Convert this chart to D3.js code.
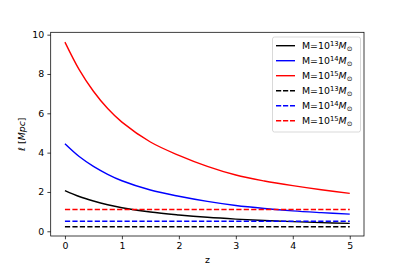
<!DOCTYPE html>
<html>
<head>
<meta charset="utf-8">
<script src="https://cdn.jsdelivr.net/npm/d3@7"></script>
<style>
  body { margin: 0; background: #fff; }
  text { font-family: "DejaVu Sans", sans-serif; }
</style>
</head>
<body>
<svg id="chart" width="405" height="270"></svg>
<script>
// values
var zValues = [0, 0.25, 0.5, 0.75, 1, 1.5, 2, 2.5, 3, 3.5, 4, 4.5, 5];
var solid13 = [2.07, 1.77, 1.54, 1.35, 1.20, 0.98, 0.83, 0.71, 0.62, 0.55, 0.49, 0.44, 0.40];
var solid14 = [4.45, 3.80, 3.30, 2.90, 2.57, 2.10, 1.78, 1.52, 1.31, 1.16, 1.04, 0.95, 0.87];
var solid15 = [9.62, 8.22, 7.12, 6.24, 5.55, 4.54, 3.86, 3.30, 2.86, 2.56, 2.32, 2.11, 1.93];
var dashed13 = [0.23, 0.23];
var dashed14 = [0.51, 0.51];
var dashed15 = [1.11, 1.11];
var dashedZ = [0, 5];
var xTicks = [0, 1, 2, 3, 4, 5];
var yTicks = [0, 2, 4, 6, 8, 10];
var exps = ["13", "14", "15"];

var svg = d3.select('#chart');

var pLeft = 50.7, pRight = 364, pTop = 32.3, pBottom = 236;

var x = d3.scaleLinear().domain([-0.25, 5.25]).range([pLeft, pRight]);
var y = d3.scaleLinear().domain([-0.24, 10.12]).range([pBottom, pTop]);

// series list
var series = [
  {z: zValues, v: solid13, color: 'black', dash: null, exp: exps[0]},
  {z: zValues, v: solid14, color: 'blue', dash: null, exp: exps[1]},
  {z: zValues, v: solid15, color: 'red', dash: null, exp: exps[2]},
  {z: dashedZ, v: dashed13, color: '#000', dash: '5.2,2.25', exp: exps[0]},
  {z: dashedZ, v: dashed14, color: 'blue', dash: '5.2,2.25', exp: exps[1]},
  {z: dashedZ, v: dashed15, color: 'red', dash: '5.2,2.25', exp: exps[2]}
];

var line = d3.line()
  .x(function(d){ return x(d[0]); })
  .y(function(d){ return y(d[1]); })
  .curve(d3.curveCatmullRom.alpha(0.5));

svg.selectAll('.series')
  .data(series)
  .enter()
  .append('path')
  .attr('class', 'series')
  .attr('fill', 'none')
  .attr('stroke', function(d){ return d.color; })
  .attr('stroke-width', 1.4)
  .attr('stroke-dasharray', function(d){ return d.dash; })
  .attr('d', function(d){ return line(d.z.map(function(z, i){ return [z, d.v[i]]; })); });

// axes
var xAxis = svg.append('g')
  .attr('transform', 'translate(0,' + pBottom + ')')
  .call(d3.axisBottom(x).tickValues(xTicks).tickFormat(d3.format('d')).tickSize(3.3).tickPadding(3.3));
var yAxis = svg.append('g')
  .attr('transform', 'translate(' + pLeft + ',0)')
  .call(d3.axisLeft(y).tickValues(yTicks).tickFormat(d3.format('d')).tickSize(3.3).tickPadding(3.3));

[xAxis, yAxis].forEach(function(a){
  a.select('.domain').remove();
  a.selectAll('line').attr('stroke', '#000').attr('stroke-width', 0.75);
  a.selectAll('text').attr('font-size', '9.4px').attr('fill', '#000')
    .attr('font-family', '"DejaVu Sans", sans-serif');
});

// frame
svg.append('rect')
  .attr('x', pLeft).attr('y', pTop)
  .attr('width', pRight - pLeft).attr('height', pBottom - pTop)
  .attr('fill', 'none').attr('stroke', '#000').attr('stroke-width', 0.75);

// axis labels
svg.append('text')
  .attr('x', (pLeft + pRight) / 2).attr('y', 263)
  .attr('text-anchor', 'middle')
  .attr('font-size', '9.4px')
  .text('z');

var yl = svg.append('text')
  .attr('transform', 'translate(25,' + ((pTop + pBottom) / 2) + ') rotate(-90)')
  .attr('text-anchor', 'middle')
  .attr('font-size', '9.4px');
yl.append('tspan').attr('font-style', 'italic').text('ℓ');
yl.append('tspan').text(' [');
yl.append('tspan').attr('font-style', 'italic').text('Mpc');
yl.append('tspan').text(']');

// legend
var legend = svg.append('g');
legend.append('rect')
  .attr('x', 272.5).attr('y', 37)
  .attr('width', 88).attr('height', 95)
  .attr('rx', 2)
  .attr('fill', 'white').attr('fill-opacity', 0.8)
  .attr('stroke', '#ccc').attr('stroke-width', 0.75);

var rows = legend.selectAll('.row')
  .data(series)
  .enter()
  .append('g')
  .attr('class', 'row')
  .attr('transform', function(d, i){ return 'translate(0,' + (45.7 + i * 15) + ')'; });

rows.append('line')
  .attr('x1', 276).attr('x2', 295)
  .attr('stroke', function(d){ return d.color; })
  .attr('stroke-width', 1.4)
  .attr('stroke-dasharray', function(d){ return d.dash ? '5.2,1.8' : null; });

var lbl = rows.append('text')
  .attr('x', 302).attr('y', 3.4)
  .attr('font-size', '9.4px');
lbl.append('tspan').text('M=10');
lbl.append('tspan').attr('font-size', '6.8px').attr('dy', -3.5).text(function(d){ return d.exp; });
lbl.append('tspan').attr('font-style', 'italic').attr('dy', 3.5).text('M');
lbl.append('tspan').attr('font-size', '6.8px').attr('dy', 1.8).text('⊙');
</script>
</body>
</html>
